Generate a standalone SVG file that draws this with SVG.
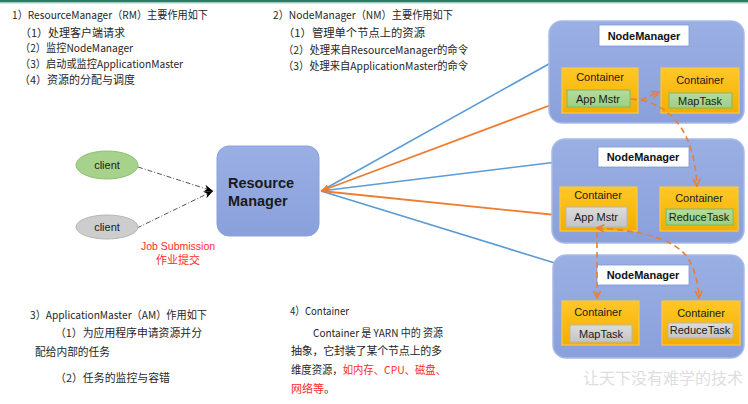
<svg xmlns="http://www.w3.org/2000/svg" width="748" height="404" viewBox="0 0 748 404">
<style>
  .cn { font-family: "Noto Sans CJK SC", "Noto Sans", sans-serif; font-size: 11px; fill: #262626; }
  .red { fill: #ff2a2a; }
  .lat { font-family: "Liberation Sans", Arial, sans-serif; fill: #1a1a1a; }
  .nmbox { fill: url(#gBlue); stroke: #a9b9e8; stroke-width: 1.5; }
  .nmlabel { fill: #ffffff; stroke: #7f97d6; stroke-width: 0.8; }
  .nmtext { font-family: "Liberation Sans", Arial, sans-serif; font-weight: bold; font-size: 11px; fill: #111; }
  .cont { fill: url(#gGold); stroke: #f7c948; stroke-width: 1.2; }
  .ctext { font-family: "Liberation Sans", Arial, sans-serif; font-size: 11px; fill: #1a1a1a; }
  .green { fill: url(#gGreen); stroke: #7fb865; stroke-width: 1; }
  .gray { fill: url(#gGray); stroke: #b5b5b5; stroke-width: 1; }
  .blue { stroke: #5b9bd5; stroke-width: 1.6; fill: none; }
  .orange { stroke: #ed7d31; stroke-width: 1.8; fill: none; }
  .odash { stroke: #ed7d31; stroke-width: 1.6; fill: none; stroke-dasharray: 6 4; }
  .cdash { stroke: #555; stroke-width: 1; fill: none; stroke-dasharray: 5 2 1 2; }
</style>
<defs>
  <linearGradient id="gBlue" x1="0" y1="0" x2="0" y2="1">
    <stop offset="0" stop-color="#9aafe3"/>
    <stop offset="1" stop-color="#8aa0db"/>
  </linearGradient>
  <linearGradient id="gGold" x1="0" y1="0" x2="0" y2="1">
    <stop offset="0" stop-color="#ffc826"/>
    <stop offset="1" stop-color="#f4ad00"/>
  </linearGradient>
  <linearGradient id="gGreen" x1="0" y1="0" x2="0" y2="1">
    <stop offset="0" stop-color="#b5dc9e"/>
    <stop offset="1" stop-color="#9ccf80"/>
  </linearGradient>
  <linearGradient id="gGray" x1="0" y1="0" x2="0" y2="1">
    <stop offset="0" stop-color="#dcdcdc"/>
    <stop offset="1" stop-color="#c4c4c4"/>
  </linearGradient>
  <marker id="aBlue" viewBox="0 0 10 10" refX="10" refY="5" markerUnits="userSpaceOnUse" markerWidth="9" markerHeight="8" orient="auto-start-reverse">
    <path d="M0,0 L10,5 L0,10 z" fill="#5b9bd5"/>
  </marker>
  <marker id="aOrange" viewBox="0 0 10 10" refX="10" refY="5" markerUnits="userSpaceOnUse" markerWidth="9" markerHeight="8" orient="auto-start-reverse">
    <path d="M0,0 L10,5 L0,10 z" fill="#ed7d31"/>
  </marker>
  <marker id="aOpen" viewBox="0 0 10 10" refX="9" refY="5" markerUnits="userSpaceOnUse" markerWidth="9" markerHeight="9" orient="auto-start-reverse">
    <path d="M1,1 L9,5 L1,9" fill="none" stroke="#ed7d31" stroke-width="1.8"/>
  </marker>
  <marker id="aBlack" viewBox="0 0 10 10" refX="10" refY="5" markerUnits="userSpaceOnUse" markerWidth="9" markerHeight="9" orient="auto">
    <path d="M0,1 L10,5 L0,9 L3,5 z" fill="#000"/>
  </marker>
</defs>

<rect x="0" y="0" width="748" height="404" fill="#ffffff"/>
<rect x="0" y="0" width="748" height="2.5" fill="#2b7a63"/>
<rect x="0" y="2.5" width="748" height="1.2" fill="#b9d8cc"/>

<!-- text blocks -->
<g id="text-rm">
  <text class="cn" x="12" y="19" textLength="196" lengthAdjust="spacingAndGlyphs">1）ResourceManager（RM）主要作用如下</text>
  <text class="cn" x="20" y="37" textLength="105" lengthAdjust="spacingAndGlyphs">（1）处理客户端请求</text>
  <text class="cn" x="20" y="52" textLength="113" lengthAdjust="spacingAndGlyphs">（2）监控NodeManager</text>
  <text class="cn" x="20" y="68" textLength="163" lengthAdjust="spacingAndGlyphs">（3）启动或监控ApplicationMaster</text>
  <text class="cn" x="19" y="84" textLength="116" lengthAdjust="spacingAndGlyphs">（4）资源的分配与调度</text>
</g>
<g id="text-nm">
  <text class="cn" x="273" y="19" textLength="180" lengthAdjust="spacingAndGlyphs">2）NodeManager（NM）主要作用如下</text>
  <text class="cn" x="283" y="37" textLength="142" lengthAdjust="spacingAndGlyphs">（1）管理单个节点上的资源</text>
  <text class="cn" x="283" y="54" textLength="185" lengthAdjust="spacingAndGlyphs">（2）处理来自ResourceManager的命令</text>
  <text class="cn" x="283" y="70" textLength="185" lengthAdjust="spacingAndGlyphs">（3）处理来自ApplicationMaster的命令</text>
</g>
<g id="text-am">
  <text class="cn" x="30" y="319" textLength="177" lengthAdjust="spacingAndGlyphs">3）ApplicationMaster（AM）作用如下</text>
  <text class="cn" x="55" y="337" textLength="147" lengthAdjust="spacingAndGlyphs">（1）为应用程序申请资源并分</text>
  <text class="cn" x="35" y="356" textLength="75" lengthAdjust="spacingAndGlyphs">配给内部的任务</text>
  <text class="cn" x="55" y="382" textLength="115" lengthAdjust="spacingAndGlyphs">（2）任务的监控与容错</text>
</g>
<g id="text-container">
  <text class="cn" x="290" y="315" textLength="59" lengthAdjust="spacingAndGlyphs">4）Container</text>
  <text class="cn" x="313" y="337" textLength="130" lengthAdjust="spacingAndGlyphs">Container 是 YARN 中的 资源</text>
  <text class="cn" x="291" y="355" textLength="151" lengthAdjust="spacing">抽象，它封装了某个节点上的多</text>
  <text class="cn" x="291" y="374" textLength="155" lengthAdjust="spacingAndGlyphs">维度资源，<tspan class="red">如内存、CPU、磁盘、</tspan></text>
  <text class="cn" x="291" y="393"><tspan class="red">网络等</tspan>。</text>
</g>

<!-- connectors -->
<g id="connectors">
  <line class="cdash" x1="138" y1="167" x2="213" y2="191" marker-end="url(#aBlack)"/>
  <line class="cdash" x1="137" y1="228" x2="213" y2="191" marker-end="url(#aBlack)"/>
  <line class="blue" x1="321" y1="191" x2="599" y2="36" marker-end="url(#aBlue)"/>
  <line class="blue" x1="321" y1="191" x2="598" y2="157" marker-end="url(#aBlue)"/>
  <line class="blue" x1="321" y1="191" x2="597" y2="276" marker-end="url(#aBlue)"/>
  <line class="orange" x1="321" y1="191" x2="567" y2="99" marker-start="url(#aOrange)" marker-end="url(#aOrange)"/>
  <line class="orange" x1="321" y1="191" x2="566" y2="216" marker-end="url(#aOrange)"/>
</g>

<g id="client1">
  <ellipse cx="107" cy="165" rx="31" ry="14" fill="#a6d28c" stroke="#8ec072" stroke-width="1"/>
  <text class="lat" x="107" y="169" font-size="11" text-anchor="middle">client</text>
</g>
<g id="client2">
  <ellipse cx="107" cy="227" rx="31" ry="12" fill="#cdcdcd" stroke="#b5b5b5" stroke-width="1"/>
  <text class="lat" x="107" y="231" font-size="11" text-anchor="middle">client</text>
</g>
<g id="job-label">
  <text class="lat" x="178" y="250" font-size="10.5" text-anchor="middle" style="fill:#ff2a2a">Job Submission</text>
  <text class="cn red" x="178" y="264" text-anchor="middle">作业提交</text>
</g>

<g id="resource-manager">
  <rect x="217" y="146" width="102" height="90" rx="12" fill="url(#gBlue)" stroke="#8aa0db" stroke-width="1"/>
  <text class="lat" x="228" y="188" font-size="14.5" font-weight="bold" fill="#111">Resource</text>
  <text class="lat" x="228" y="206" font-size="14.5" font-weight="bold" fill="#111">Manager</text>
</g>

<g id="node-manager-1">
  <rect class="nmbox" x="549" y="21" width="195" height="102" rx="13"/>
  <rect class="nmlabel" x="599" y="25" width="90" height="21"/>
  <text class="nmtext" x="644" y="40" text-anchor="middle">NodeManager</text>
  <g id="nm1-container-am">
    <rect class="cont" x="562" y="68" width="76" height="45"/>
    <text class="ctext" x="600" y="81" text-anchor="middle">Container</text>
    <rect class="green" x="567" y="90" width="63" height="17"/>
    <text class="ctext" x="598" y="103" text-anchor="middle">App Mstr</text>
  </g>
  <g id="nm1-container-map">
    <rect class="cont" x="661" y="68" width="78" height="45"/>
    <text class="ctext" x="700" y="84" text-anchor="middle">Container</text>
    <rect class="green" x="669" y="93" width="63" height="15"/>
    <text class="ctext" x="700" y="105" text-anchor="middle">MapTask</text>
  </g>
</g>

<g id="node-manager-2">
  <rect class="nmbox" x="552" y="139" width="192" height="104" rx="13"/>
  <rect class="nmlabel" x="598" y="147" width="91" height="20"/>
  <text class="nmtext" x="643" y="161" text-anchor="middle">NodeManager</text>
  <g id="nm2-container-am">
    <rect class="cont" x="560" y="187" width="77" height="44"/>
    <text class="ctext" x="598" y="199" text-anchor="middle">Container</text>
    <rect class="gray" x="566" y="207" width="61" height="20"/>
    <text class="ctext" x="596" y="221" text-anchor="middle">App Mstr</text>
  </g>
  <g id="nm2-container-reduce">
    <rect class="cont" x="660" y="187" width="78" height="44"/>
    <text class="ctext" x="699" y="202" text-anchor="middle">Container</text>
    <rect class="green" x="666" y="209" width="67" height="16"/>
    <text class="ctext" x="699" y="220.5" text-anchor="middle" font-size="8.5">ReduceTask</text>
  </g>
</g>

<g id="node-manager-3">
  <rect class="nmbox" x="553" y="255" width="191" height="103" rx="13"/>
  <rect class="nmlabel" x="597" y="265" width="92" height="20"/>
  <text class="nmtext" x="643" y="279" text-anchor="middle">NodeManager</text>
  <g id="nm3-container-map">
    <rect class="cont" x="562" y="301" width="77" height="44"/>
    <text class="ctext" x="598" y="316" text-anchor="middle">Container</text>
    <rect class="gray" x="570" y="325" width="62" height="17"/>
    <text class="ctext" x="601" y="338" text-anchor="middle">MapTask</text>
  </g>
  <g id="nm3-container-reduce">
    <rect class="cont" x="662" y="301" width="78" height="44"/>
    <text class="ctext" x="701" y="317" text-anchor="middle">Container</text>
    <rect class="gray" x="668" y="323" width="65" height="15"/>
    <text class="ctext" x="700" y="334" text-anchor="middle" font-size="8.5">ReduceTask</text>
  </g>
</g>

<!-- dashed connectors between containers -->
<g id="task-connectors">
  <path class="odash" d="M631 99 L641 100 L659 92" marker-end="url(#aOpen)"/>
  <path class="odash" d="M641 100 Q693 112 697 186" marker-end="url(#aOpen)"/>
  <path class="odash" d="M597 228 Q670 232 688 258 Q698 275 699 298" marker-start="url(#aOpen)" marker-end="url(#aOpen)"/>
  <path class="odash" d="M597 232 L597 298" marker-end="url(#aOpen)"/>
</g>

<text x="583" y="384" font-family="'Noto Sans CJK SC', serif" font-size="16" fill="#dedede">让天下没有难学的技术</text>
</svg>
